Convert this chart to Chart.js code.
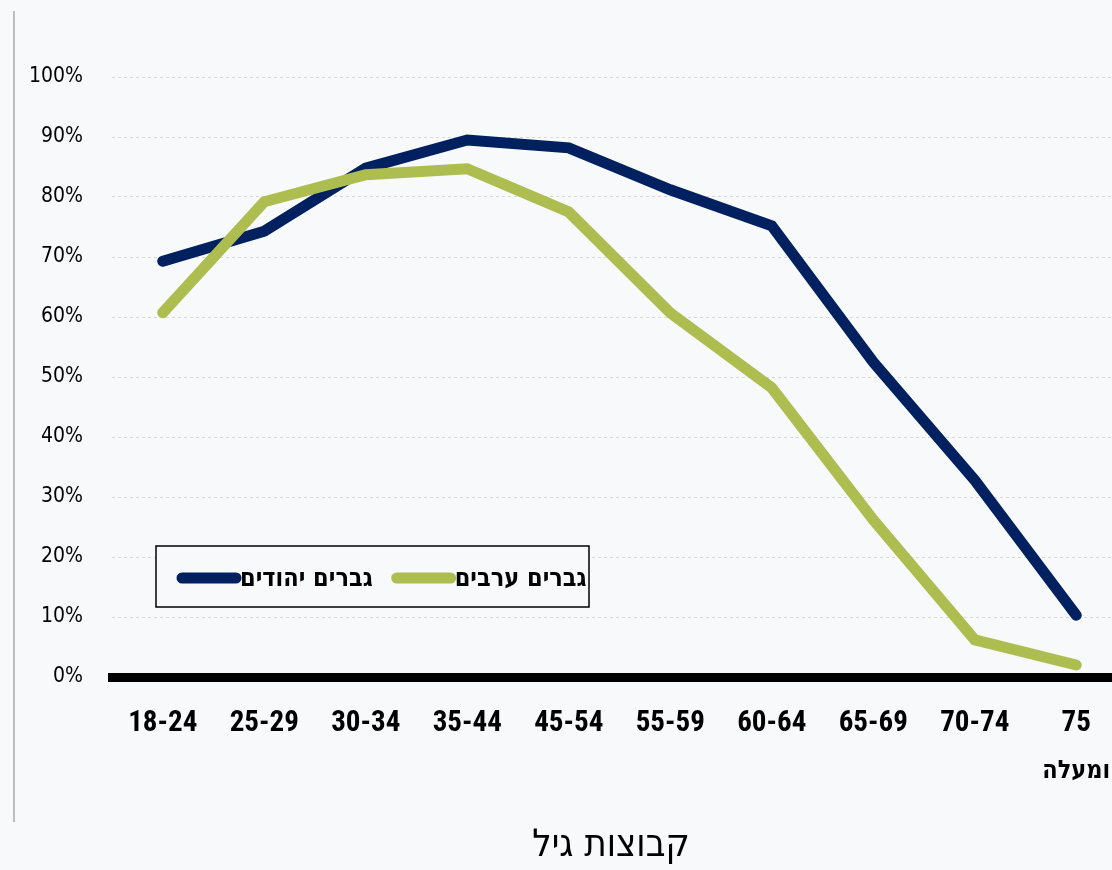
<!DOCTYPE html>
<html>
<head>
<meta charset="utf-8">
<script src="https://cdn.jsdelivr.net/npm/chart.js@4.4.1/dist/chart.umd.min.js"></script>
<style>
html,body{margin:0;padding:0;background:#f8f9fb;overflow:hidden;}
#wrap{position:relative;width:1140px;height:870px;overflow:hidden;}
#leftLine{position:absolute;left:13px;top:11px;width:2px;height:811px;background:#bdbdbd;}
</style>
</head>
<body>
<div id="wrap">
<div id="leftLine"></div>
<canvas id="myChart" width="1140" height="870"></canvas>
</div>
<script>
// age groups on the x axis
let ageGroups=["18-24","25-29","30-34","35-44","45-54","55-59","60-64","65-69","70-74",["75","ומעלה"]];
// share (%) per age group
let jewishMen=[69.3,74.3,84.8,89.5,88.2,81.2,75.2,52.5,32.8,10.3];
let arabMen=[60.7,79.2,83.7,84.7,77.5,60.7,48.2,26.2,6.2,2];
let seriesNames=["גברים יהודים","גברים ערבים"];
let seriesColors=["#002060","#adbd50"];
let yTicks=[0,10,20,30,40,50,60,70,80,90,100];
let axisTitle="קבוצות גיל";

let fam='"DejaVu Sans",sans-serif';
let numFam='"Roboto","DejaVu Sans",sans-serif';

// legend box, second label line and axis title
let hebrewText={
    id:"hebrewText",
    afterDraw(chart){
        let ctx=chart.ctx;
        ctx.save();
        ctx.direction="rtl";
        ctx.strokeStyle="#000";
        ctx.lineWidth=1.5;
        ctx.fillStyle="#f8f9fb";
        ctx.fillRect(156,546,433,61);
        ctx.strokeRect(156,546,433,61);
        let x=182;
        ctx.font='condensed bold 25px '+fam;
        ctx.textBaseline="middle";
        for(let i=0;i<seriesNames.length;i++){
            ctx.strokeStyle=seriesColors[i];
            ctx.lineWidth=11;
            ctx.lineCap="round";
            ctx.beginPath();
            ctx.moveTo(x,578);
            ctx.lineTo(x+54,578);
            ctx.stroke();
            ctx.fillStyle="#000";
            ctx.textAlign="left";
            ctx.fillText(seriesNames[i],x+58,579);
            x+=58+ctx.measureText(seriesNames[i]).width+24;
        }

        // second line of the last category label
        let xs=chart.scales.x;
        ctx.fillStyle="#000";
        ctx.textAlign="center";
        ctx.font='condensed bold 25px '+fam;
        ageGroups.forEach((l,i)=>{
            if(Array.isArray(l)){
                for(let k=1;k<l.length;k++){
                    ctx.fillText(l[k],xs.getPixelForTick(i),724+47*k);
                }
            }
        });

        ctx.font='condensed 38px '+fam;
        ctx.fillText(axisTitle,611,846);
        ctx.restore();
    }
};

new Chart("myChart",{
    type:"line",
    data:{
        labels:ageGroups,
        datasets:[{
            label:seriesNames[0],
            data:jewishMen,
            borderColor:seriesColors[0],
            order:1
        },{
            label:seriesNames[1],
            data:arabMen,
            borderColor:seriesColors[1],
            order:0
        }]
    },
    options:{
        responsive:false,
        animation:false,
        layout:{padding:{top:77,right:13,left:0,bottom:0}},
        elements:{
            line:{borderWidth:11,borderCapStyle:"round",tension:0,fill:false},
            point:{radius:0}
        },
        plugins:{legend:{display:false},tooltip:{enabled:false}},
        scales:{
            x:{
                offset:true,
                grid:{display:false},
                border:{display:true,color:"#000",width:9},
                ticks:{
                    color:"#000",
                    font:{family:numFam,size:29,weight:"condensed bold"},
                    padding:21,maxRotation:0,autoSkip:false,
                    callback:function(v,i){
                        let l=ageGroups[i];
                        return Array.isArray(l)?l[0]:l;
                    }
                },
                afterFit(s){s.height=193;}
            },
            y:{
                min:0,max:100,
                afterBuildTicks(s){s.ticks=yTicks.map(v=>({value:v}));},
                grid:{color:"#d9d9d9",lineWidth:1,drawTicks:false},
                border:{display:false,dash:[3,3]},
                ticks:{color:"#000",font:{family:fam,size:21,weight:"condensed"},padding:29,callback:v=>v+"%"},
                afterFit(s){s.width=112;}
            }
        }
    },
    plugins:[hebrewText]
});
</script>
</body>
</html>
